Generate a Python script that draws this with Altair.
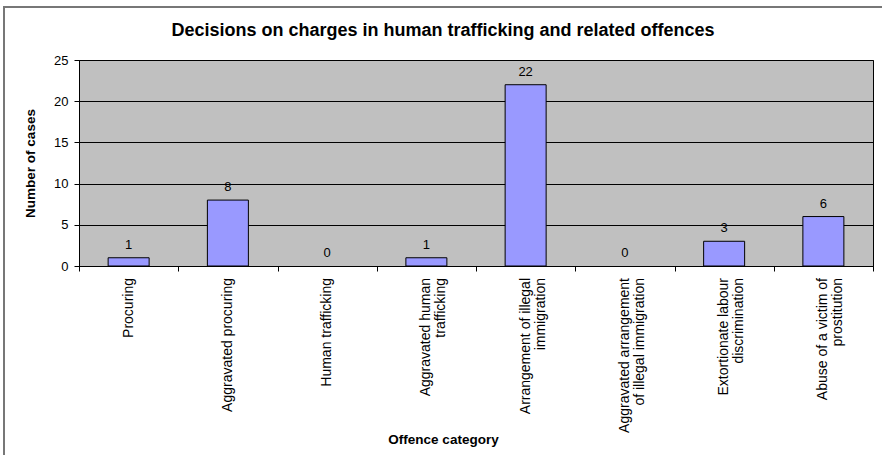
import altair as alt
import pandas as pd

categories = [
    "Procuring",
    "Aggravated procuring",
    "Human trafficking",
    "Aggravated human\ntrafficking",
    "Arrangement of illegal\nimmigration",
    "Aggravated arrangement\nof illegal immigration",
    "Extortionate labour\ndiscrimination",
    "Abuse of a victim of\nprostitution",
]
cases = [1, 8, 0, 1, 22, 0, 3, 6]
y_ticks = [0, 5, 10, 15, 20, 25]
title_text = "Decisions on charges in human trafficking and related offences"

df = pd.DataFrame({"cat": categories, "cases": cases})

FONT = "Liberation Sans"
W, H = 794, 206

x_scale = alt.Scale(domain=categories, paddingInner=0, paddingOuter=0)

x_enc = alt.X(
    "cat:N",
    scale=x_scale,
    axis=alt.Axis(
        title="Offence category",
        titleFont=FONT, titleFontSize=13.5, titleFontWeight="bold", titleColor="black",
        titleX=364, titleY=166, titleAnchor="middle",
        labels=False, ticks=True, tickSize=5, tickColor="black", domainColor="black",
        tickBand="extent", grid=False,
    ),
)

bars = alt.Chart(df).transform_filter("datum.cases > 0").mark_bar(
    size=41, color="#9999FF", stroke="black", strokeWidth=1
).encode(
    x=x_enc,
    y=alt.Y(
        "cases:Q",
        scale=alt.Scale(domain=[0, 25], nice=False),
        axis=alt.Axis(
            values=y_ticks, title="Number of cases",
            titleFont=FONT, titleFontSize=13.5, titleFontWeight="bold", titleColor="black",
            titlePadding=16,
            labelFont=FONT, labelFontSize=13, labelColor="black", labelPadding=6,
            tickSize=5, tickColor="black", domainColor="black",
            grid=True, gridColor="black", gridWidth=1,
        ),
    ),
)

values = alt.Chart(df).mark_text(
    baseline="bottom", dy=-6, font=FONT, fontSize=13, color="black"
).encode(
    x=alt.X("cat:N", scale=x_scale),
    y="cases:Q",
    text="cases:Q",
)

xlabels = alt.Chart(df).mark_text(
    angle=270, align="right", baseline="middle", lineBreak="\n",
    font=FONT, fontSize=14, color="black", lineHeight=15,
).encode(
    x=alt.X("cat:N", scale=x_scale),
    y=alt.value(H + 12),
    text="cat:N",
)

title = alt.Chart(pd.DataFrame({"t": [title_text]})).mark_text(
    font=FONT, fontSize=18, fontWeight="bold", color="black",
    align="center", baseline="middle",
).encode(
    x=alt.value(364), y=alt.value(-29), text="t:N",
)

border = alt.Chart(df).mark_rect(
    fill=None, stroke="#777777", strokeWidth=2, clip=False
).encode(
    x=alt.value(-75), x2=alt.value(W + 40),
    y=alt.value(-53), y2=alt.value(H + 250),
)

chart = alt.layer(border, bars, values, xlabels, title).properties(
    width=W, height=H,
    autosize=alt.AutoSizeParams(type="none"),
    padding={"left": 79, "top": 60, "right": 9, "bottom": 189},
    background="white",
).configure_view(
    fill="#C0C0C0", stroke="black", strokeWidth=1
)

chart.save("out.html", embed_options={"renderer": "svg", "actions": False})
